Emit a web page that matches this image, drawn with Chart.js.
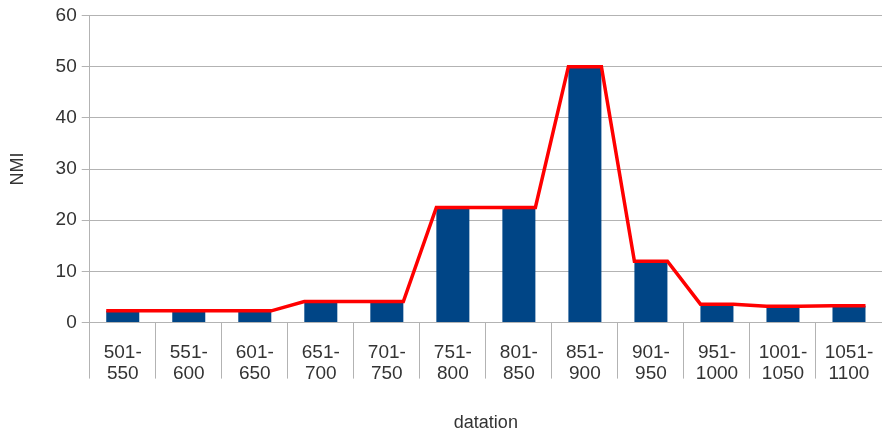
<!DOCTYPE html>
<html>
<head>
<meta charset="utf-8">
<script src="https://cdn.jsdelivr.net/npm/chart.js@4/dist/chart.umd.min.js"></script>
<style>
  html, body { margin: 0; padding: 0; background: #fff; }
  #wrap { width: 882px; height: 434px; }
</style>
</head>
<body>
<div id="wrap"><canvas id="nmiChart"></canvas></div>
<script>
const categories = [['501-', '550'], ['551-', '600'], ['601-', '650'], ['651-', '700'], ['701-', '750'], ['751-', '800'],
  ['801-', '850'], ['851-', '900'], ['901-', '950'], ['951-', '1000'], ['1001-', '1050'], ['1051-', '1100']];
const nmiValues = [2.3, 2.3, 2.3, 4.1, 4.1, 22.5, 22.5, 50, 12, 3.6, 3.2, 3.3];
const yTicks = [0, 10, 20, 30, 40, 50, 60];

// the red line runs flat across each bar, from its left edge to its right edge
const linePoints = [];
nmiValues.forEach(function (v, i) {
  linePoints.push({ x: i - 0.25, y: v });
  linePoints.push({ x: i + 0.25, y: v });
});

const textColor = '#333333';
const gridColor = '#b3b3b3';
const tickFont = { family: 'Liberation Sans', size: 19, lineHeight: 1.1 };
const titleFont = { family: 'Liberation Sans', size: 18 };

Chart.defaults.font.family = 'Liberation Sans';
Chart.defaults.color = textColor;

const ctx = document.getElementById('nmiChart').getContext('2d');
const nmiChart = new Chart(ctx, {
  type: 'bar',
  data: {
    labels: categories,
    datasets: [{
      type: 'line',
      data: linePoints,
      xAxisID: 'xl',
      borderColor: '#ff0000',
      borderWidth: 3.5,
      pointRadius: 0,
      tension: 0,
      fill: false,
      order: 0
    }, {
      type: 'bar',
      data: nmiValues,
      xAxisID: 'x',
      backgroundColor: '#004586',
      categoryPercentage: 0.5,
      barPercentage: 1,
      grouped: false,
      order: 1
    }]
  },
  options: {
    responsive: true,
    maintainAspectRatio: false,
    animation: false,
    layout: {
      padding: { top: 4, right: -4, left: 7, bottom: 0 }
    },
    scales: {
      x: {
        offset: true,
        grid: {
          offset: true,
          drawOnChartArea: false,
          drawTicks: true,
          tickLength: 56,
          color: gridColor,
          lineWidth: 1
        },
        border: { color: gridColor },
        ticks: {
          font: tickFont,
          color: textColor,
          padding: -36.5,
          maxRotation: 0,
          autoSkip: false
        },
        title: {
          display: true,
          text: 'datation',
          font: titleFont,
          color: textColor,
          padding: { top: 65, bottom: 0 }
        }
      },
      xl: {
        type: 'linear',
        display: false,
        offset: false,
        bounds: 'ticks',
        min: -0.5,
        max: 11.5
      },
      y: {
        min: 0,
        max: 60,
        afterBuildTicks: function (axis) {
          axis.ticks = yTicks.map(function (v) { return { value: v }; });
        },
        grid: {
          color: gridColor,
          tickLength: 8
        },
        border: { color: gridColor },
        ticks: {
          font: tickFont,
          color: textColor,
          padding: 5
        },
        title: {
          display: true,
          text: 'NMI',
          font: titleFont,
          color: textColor,
          padding: { top: 0, bottom: 22 }
        }
      }
    },
    plugins: {
      legend: { display: false },
      tooltip: { enabled: false }
    }
  }
});
</script>
</body>
</html>
